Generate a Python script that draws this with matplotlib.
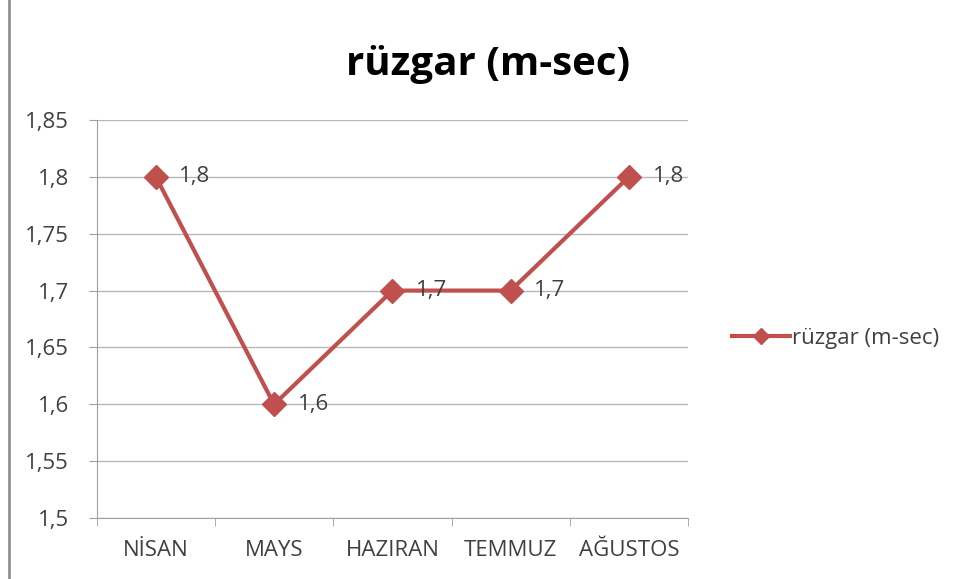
import matplotlib
matplotlib.use("Agg")
import matplotlib.pyplot as plt
from matplotlib.lines import Line2D

months = ["NİSAN", "MAYS", "HAZIRAN", "TEMMUZ", "AĞUSTOS"]
wind = [1.8, 1.6, 1.7, 1.7, 1.8]
y_ticks = [1.5, 1.55, 1.6, 1.65, 1.7, 1.75, 1.8, 1.85]
series_name = "rüzgar (m-sec)"

RED = "#C0504D"
TEXT = "#404040"

plt.rcParams["font.family"] = ["Open Sans", "DejaVu Sans"]

fig = plt.figure(figsize=(9.57, 5.79), dpi=100)
ax = fig.add_axes([0.101, 0.105, 0.618, 0.688])

x = list(range(len(months)))
ax.plot(x, wind, color=RED, linewidth=3, marker="D", markersize=12,
        markerfacecolor=RED, markeredgecolor=RED, label=series_name, zorder=3)
for xi, v in zip(x, wind):
    ax.annotate(f"{v:g}".replace(".", ","), (xi, v), xytext=(17, 0),
                textcoords="offset points", va="center", ha="left",
                fontsize=16, color=TEXT)

ax.set_xlim(-0.5, len(months) - 0.5)
ax.set_ylim(1.5, 1.85)
ax.set_yticks(y_ticks)
ax.set_yticklabels([f"{t:g}".replace(".", ",") for t in y_ticks], fontsize=16, color=TEXT)
ax.set_xticks(x)
ax.set_xticklabels(months, fontsize=16, color=TEXT)
ax.set_xticks([i - 0.5 for i in range(len(months) + 1)], minor=True)
ax.tick_params(axis="x", which="major", length=0, pad=16)
ax.tick_params(axis="x", which="minor", length=6, color="#A0A0A0", direction="out")
ax.tick_params(axis="y", length=6, color="#A0A0A0", pad=14)

ax.grid(axis="y", color="#B8B8B8", linewidth=1)
ax.set_axisbelow(True)
for side in ["top", "right"]:
    ax.spines[side].set_visible(False)
for side in ["left", "bottom"]:
    ax.spines[side].set_color("#A0A0A0")

fig.text(0.51, 0.888, series_name, ha="center", va="center",
         fontsize=29, fontweight="bold", color="black")

ax.legend(loc="center left", bbox_to_anchor=(1.04, 0.452), frameon=False,
          fontsize=16, handlelength=2.6, handletextpad=0.1, markerscale=0.7,
          labelcolor=TEXT)

fig.add_artist(Line2D([0.009, 0.009], [0.0, 1.0], color="#909090", linewidth=2))

fig.savefig("out.png", dpi=100)
